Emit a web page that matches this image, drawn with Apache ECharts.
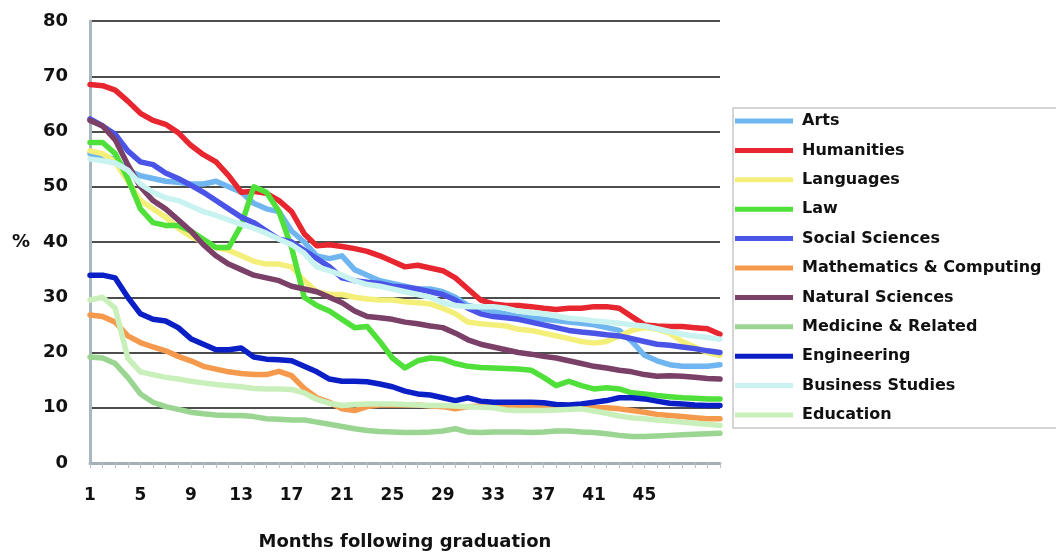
<!DOCTYPE html>
<html>
<head>
<meta charset="utf-8">
<script src="https://cdn.jsdelivr.net/npm/echarts@6/dist/echarts.min.js"></script>
<style>
html,body{margin:0;padding:0;background:#fff;}
#chart{width:1056px;height:556px;}
</style>
</head>
<body>
<div id="chart"></div>
<script>
const months = Array.from({length: 51}, (_, i) => String(i + 1));
const yTicks = [0, 10, 20, 30, 40, 50, 60, 70, 80];

const arts = [56,55.5,55,53,52,51.5,51,50.8,50.5,50.5,51,50,49,47,46,45.5,42,40,37.5,37,37.5,35,34,33,32.5,32,31.5,31.5,31,30,28.5,28,27.5,27,26.5,26.3,26,25.8,25.5,25.3,25,24.5,24,22,19.5,18.5,17.8,17.5,17.5,17.5,17.8];
const humanities = [68.5,68.3,67.5,65.5,63.3,62,61.3,59.8,57.5,55.8,54.5,52,49,49.2,48.8,47.5,45.5,41.5,39.3,39.5,39.2,38.8,38.3,37.5,36.5,35.5,35.8,35.3,34.8,33.5,31.5,29.5,28.8,28.5,28.5,28.3,28,27.8,28,28,28.3,28.3,28,26.5,25,24.8,24.7,24.7,24.5,24.3,23.3];
const languages = [56.5,56,54.5,51,47.5,46,44.5,42.5,41,40,39,38.5,37.5,36.5,36,36,35.5,33,31,30.5,30.5,30,29.7,29.5,29.5,29.2,29,28.8,28,27,25.5,25.2,25,24.8,24.2,24,23.5,23,22.5,22,21.7,22,23,24,24.5,24.2,23.5,22,21,20,19.5];
const law = [58,58,56,51.5,46,43.5,43,43,42,40.5,39,39,43,50,49,45.5,39,30,28.5,27.5,26,24.5,24.7,22,19,17.2,18.5,19,18.8,18,17.5,17.3,17.2,17.1,17,16.8,15.5,14,14.8,14,13.4,13.6,13.4,12.7,12.5,12.2,12,11.8,11.7,11.6,11.6];
const socialSciences = [62.3,61,59.5,56.5,54.5,54,52.5,51.5,50.3,49,47.5,46,44.5,43.5,42,40.5,40,38.5,37,35.5,33.5,33,32.7,32.5,32,31.8,31.5,31,30.5,29.5,28,27,26.5,26.3,26,25.5,25,24.5,24,23.7,23.5,23.2,23,22.5,22,21.5,21.3,21,20.7,20.3,20];
const mathsComputing = [26.8,26.5,25.5,23,21.8,21,20.3,19.3,18.5,17.5,17,16.5,16.2,16,16,16.6,15.8,13.5,11.8,11,9.8,9.5,10.2,10.5,10.5,10.5,10.5,10.3,10.2,9.8,10.2,10.3,10.4,10.4,10.3,10.3,10.2,10.2,10.2,10,10,10,9.8,9.5,9.2,8.8,8.6,8.4,8.2,8,8];
const naturalSciences = [62,61,58.5,54,50,47.5,46,44,42,39.5,37.5,36,35,34,33.5,33,32,31.5,31,30,29,27.5,26.5,26.3,26,25.5,25.2,24.8,24.5,23.5,22.3,21.5,21,20.5,20,19.7,19.3,19,18.5,18,17.5,17.2,16.8,16.5,16,15.7,15.8,15.7,15.5,15.3,15.2];
const medicine = [19.2,19,18,15.5,12.5,11,10.2,9.7,9.2,8.9,8.7,8.6,8.6,8.4,8,7.9,7.8,7.8,7.4,7,6.6,6.2,5.9,5.7,5.6,5.5,5.5,5.6,5.8,6.2,5.6,5.5,5.6,5.6,5.6,5.5,5.6,5.8,5.8,5.6,5.5,5.3,5,4.8,4.8,4.9,5,5.1,5.2,5.3,5.4];
const engineering = [34,34,33.5,30,27,26,25.7,24.5,22.5,21.5,20.5,20.5,20.8,19.2,18.8,18.7,18.5,17.5,16.5,15.2,14.8,14.8,14.7,14.3,13.8,13,12.5,12.3,11.8,11.3,11.8,11.2,11,11,11,11,10.9,10.6,10.5,10.7,11,11.3,11.8,11.8,11.6,11.2,10.8,10.7,10.5,10.4,10.4];
const businessStudies = [55,54.7,54.3,53,50.5,49,48,47.5,46.5,45.5,44.8,44,43.2,42.5,41.6,40.5,39.5,38,35.5,34.8,34,33,32.3,32,31.5,31,30.5,30,29,28.5,28.3,28.3,28.3,28,27.5,27.2,27,26.6,26.2,26,25.7,25.5,25.3,25,24.8,24.3,23.8,23.3,23,22.7,22.4];
const education = [29.5,30,28,19,16.5,16,15.5,15.2,14.8,14.5,14.2,14,13.8,13.5,13.4,13.4,13.3,12.7,11.5,10.8,10.4,10.6,10.7,10.7,10.7,10.6,10.5,10.4,10.4,10.3,10.2,10.1,10,9.6,9.5,9.5,9.5,9.6,9.7,9.8,9.4,9,8.5,8.2,8,7.8,7.6,7.4,7.2,7,6.8];

const seriesNames = ['Arts','Humanities','Languages','Law','Social Sciences','Mathematics & Computing','Natural Sciences','Medicine & Related','Engineering','Business Studies','Education'];
const seriesData = [arts, humanities, languages, law, socialSciences, mathsComputing, naturalSciences, medicine, engineering, businessStudies, education];
const seriesColors = ['#6fb6f0','#e8262f','#f3ef78','#4fe03a','#4a54e6','#f59a4c','#7a4068','#9ad592','#0b1fc6','#c9f3f0','#c9f0ba'];

const FONT = 'DejaVu Sans';
const chart = echarts.init(document.getElementById('chart'), null, {renderer: 'canvas'});
chart.setOption({
  backgroundColor: '#ffffff',
  animation: false,
  textStyle: {fontFamily: FONT},
  grid: {left: 90, right: 336, top: 21, bottom: 88, containLabel: false},
  legend: {
    orient: 'vertical',
    left: 733,
    top: 108,
    padding: [3, 20, 3, 2],
    borderColor: '#c8c8c8',
    borderWidth: 1.5,
    itemWidth: 58,
    itemHeight: 5,
    itemGap: 9.4,
    icon: 'rect',
    textStyle: {fontFamily: FONT, fontSize: 16, fontWeight: 'bold', color: '#111', lineHeight: 20, padding: [0, 0, 0, 4]},
    data: seriesNames
  },
  xAxis: {
    type: 'category',
    data: months,
    boundaryGap: false,
    name: 'Months following graduation',
    nameLocation: 'middle',
    nameGap: 70,
    nameTextStyle: {fontFamily: FONT, fontSize: 18, fontWeight: 'bold', color: '#111'},
    axisLine: {lineStyle: {color: '#a4b0b5', width: 3}},
    axisTick: {show: true, interval: 0, length: 5, lineStyle: {color: '#b9c2c6', width: 1}},
    axisLabel: {
      interval: function (idx) { return idx % 4 === 0 && idx <= 44; },
      margin: 24,
      fontFamily: FONT, fontSize: 17, fontWeight: 'bold', color: '#111'
    },
    splitLine: {show: false}
  },
  yAxis: {
    type: 'value',
    min: yTicks[0],
    max: yTicks[yTicks.length - 1],
    interval: 10,
    name: '%',
    nameLocation: 'middle',
    nameRotate: 0,
    nameGap: 60,
    nameTextStyle: {fontFamily: FONT, fontSize: 18, fontWeight: 'bold', color: '#111'},
    axisLine: {show: true, lineStyle: {color: '#a9b8bf', width: 3}},
    axisTick: {show: false},
    axisLabel: {margin: 22, fontFamily: FONT, fontSize: 18, fontWeight: 'bold', color: '#111'},
    splitLine: {show: true, lineStyle: {color: '#4d4d4d', width: 2}}
  },
  series: seriesNames.map((name, i) => ({
    name: name,
    type: 'line',
    data: seriesData[i],
    symbol: 'none',
    smooth: false,
    color: seriesColors[i],
    lineStyle: {width: 5.5, color: seriesColors[i], cap: 'round', join: 'round'}
  }))
});
</script>
</body>
</html>
